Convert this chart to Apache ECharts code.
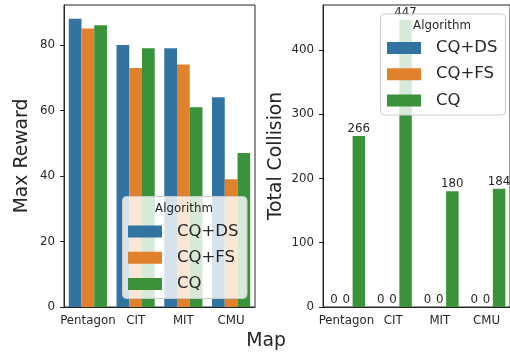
<!DOCTYPE html>
<html>
<head>
<meta charset="utf-8">
<script src="https://cdn.jsdelivr.net/npm/echarts@6/dist/echarts.min.js"></script>
<style>html,body{margin:0;padding:0;background:#fff}#c{width:510px;height:354px}</style>
</head>
<body>
<div id="c"></div>
<script>
const categories = ['Pentagon', 'CIT', 'MIT', 'CMU'];
const algorithms = ['CQ+DS', 'CQ+FS', 'CQ'];
const rewardDS = [88, 80, 79, 64];
const rewardFS = [85, 73, 74, 39];
const rewardCQ = [86, 79, 61, 47];
const collisionDS = [0, 0, 0, 0];
const collisionFS = [0, 0, 0, 0];
const collisionCQ = [266, 447, 180, 184];
const rewardTicks = [0, 20, 40, 60, 80];
const collisionTicks = [0, 100, 200, 300, 400];
const colors = ['#3274a1', '#e1812c', '#3a923a'];

const FONT = 'DejaVu Sans';
const INK = '#262626';
const chart = echarts.init(document.getElementById('c'));

function xAxis(gridIndex) {
  return {
    type: 'category', gridIndex, data: categories,
    axisLine: { lineStyle: { color: INK, width: 1 } },
    axisTick: { alignWithLabel: true, length: 4, lineStyle: { color: INK } },
    axisLabel: { interval: 0, hideOverlap: false, fontFamily: FONT, fontSize: 11.8, color: INK, margin: 8 }
  };
}
function yAxis(gridIndex, max, ticks, name, gap) {
  return {
    type: 'value', gridIndex, min: 0, max,
    name, nameLocation: 'middle', nameGap: gap,
    nameTextStyle: { fontFamily: FONT, fontSize: 18.8, color: INK },
    splitLine: { show: false },
    axisLine: { show: true, lineStyle: { color: INK, width: 1 } },
    axisTick: { show: true, length: 4, lineStyle: { color: INK }, customValues: ticks },
    axisLabel: { fontFamily: FONT, fontSize: 11.8, color: INK, margin: 9, customValues: ticks }
  };
}
function bars(name, data, idx, color, label) {
  return {
    type: 'bar', name, data, xAxisIndex: idx, yAxisIndex: idx,
    barCategoryGap: '20%', barGap: '0%',
    itemStyle: { color },
    label: label ? { show: true, position: 'top', distance: 1, fontFamily: FONT, fontSize: 11.8, color: INK } : { show: false }
  };
}
function legend(left, top) {
  return {
    orient: 'vertical', left, top, data: algorithms, padding: 0,
    itemWidth: 34, itemHeight: 12, itemGap: 9.2, icon: 'rect',
    selectedMode: false,
    textStyle: { fontFamily: FONT, fontSize: 16.5, color: INK, lineHeight: 16, padding: [0, 0, 0, 10] }
  };
}
function legendBox(x, y, w, h, tx, ty) {
  return [
    { type: 'rect', z: 3, shape: { x, y, width: w, height: h, r: 4 },
      style: { fill: 'rgba(255,255,255,0.8)', stroke: '#cccccc', lineWidth: 1 } },
    { type: 'text', z: 5, x: tx, y: ty,
      style: { text: 'Algorithm', fontFamily: FONT, fontSize: 11.8, fill: INK, align: 'center', verticalAlign: 'middle' } }
  ];
}

chart.setOption({
  animation: false,
  backgroundColor: '#fff',
  color: colors,
  grid: [
    { left: 64, top: 5, width: 191, height: 302, show: true, borderColor: INK, borderWidth: 1, backgroundColor: 'transparent' },
    { left: 323, top: 5, width: 192, height: 302, show: true, borderColor: INK, borderWidth: 1, backgroundColor: 'transparent' }
  ],
  xAxis: [xAxis(0), xAxis(1)],
  yAxis: [
    yAxis(0, 92.2, rewardTicks, 'Max Reward', 32),
    yAxis(1, 470, collisionTicks, 'Total Collision', 37)
  ],
  legend: [legend(128, 223), legend(387, 39.5)],
  series: [
    bars(algorithms[0], rewardDS, 0, colors[0], false),
    bars(algorithms[1], rewardFS, 0, colors[1], false),
    bars(algorithms[2], rewardCQ, 0, colors[2], false),
    bars(algorithms[0], collisionDS, 1, colors[0], true),
    bars(algorithms[1], collisionFS, 1, colors[1], true),
    bars(algorithms[2], collisionCQ, 1, colors[2], true)
  ],
  graphic: [
    ...legendBox(122.5, 196.5, 124.5, 102, 184, 208.5),
    ...legendBox(380.5, 14, 125, 101, 442, 26),
    { type: 'text', x: 266, y: 341, z: 5,
      style: { text: 'Map', fontFamily: FONT, fontSize: 18.8, fill: INK, align: 'center', verticalAlign: 'middle' } }
  ]
});
</script>
</body>
</html>
